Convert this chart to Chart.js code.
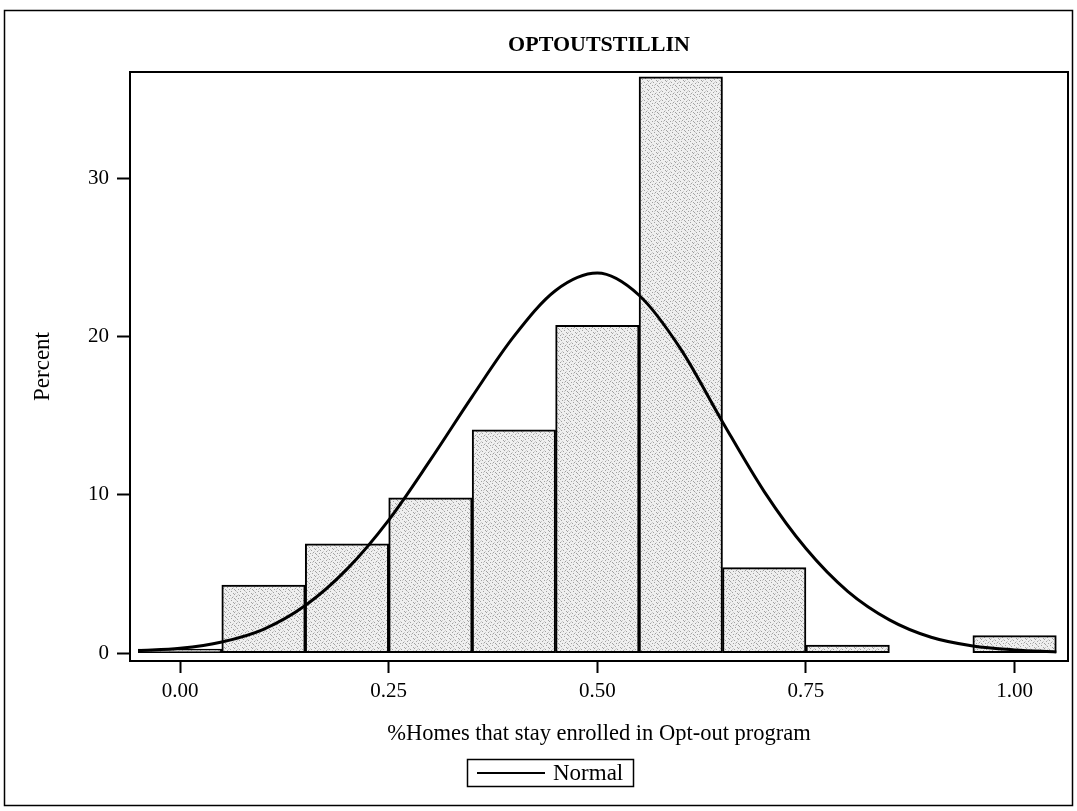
<!DOCTYPE html>
<html>
<head>
<meta charset="utf-8">
<script src="https://cdn.jsdelivr.net/npm/chart.js@4/dist/chart.umd.min.js"></script>
<style>
  html, body { margin: 0; padding: 0; background: #ffffff; }
  #wrap { width: 1077px; height: 811px; }
</style>
</head>
<body>
<div id="wrap"><canvas id="c" width="1077" height="811"></canvas></div>
<script>
// Histogram bins (midpoints) and percent of homes in each bin
const binMidpoints = [0.0, 0.1, 0.2, 0.3, 0.4, 0.5, 0.6, 0.7, 0.8, 0.9, 1.0];
const binPercent   = [0.25, 4.3, 6.9, 9.8, 14.1, 20.7, 36.4, 5.4, 0.5, 0, 1.1];

// Fitted normal curve, sampled along the x axis
const curveX = [-0.05, 0.0, 0.05, 0.1, 0.15, 0.2, 0.25, 0.3, 0.35, 0.4, 0.45, 0.5,
                0.55, 0.6, 0.65, 0.7, 0.75, 0.8, 0.85, 0.9, 0.95, 1.0, 1.05];
const curveY = [0.15, 0.3, 0.7, 1.5, 3.0, 5.3, 8.4, 12.2, 16.2, 20.0, 22.9, 24.0,
                22.6, 19.2, 14.6, 10.2, 6.6, 3.9, 2.1, 1.0, 0.45, 0.2, 0.07];

// Axis ticks
const xTickValues = [0, 0.25, 0.5, 0.75, 1.0];
const yTickValues = [0, 10, 20, 30];

const titleText = 'OPTOUTSTILLIN';
const xTitleText = '%Homes that stay enrolled in Opt-out program';
const yTitleText = 'Percent';
const legendText = 'Normal';

const SERIF = '"Liberation Serif", "Times New Roman", "DejaVu Serif", serif';

// Stippled light-gray fill for the bars
function makeStipple() {
  const p = document.createElement('canvas');
  p.width = 9; p.height = 9;
  const g = p.getContext('2d');
  g.fillStyle = '#efefef';
  g.fillRect(0, 0, 9, 9);
  g.fillStyle = '#a0a0a0';
  [[0,0],[5,1],[2,2],[7,3],[4,4],[1,5],[6,6],[3,7],[8,8],[0,4]]
    .forEach(([x, y]) => g.fillRect(x, y, 1, 1));
  g.fillStyle = '#cccccc';
  [[3,1],[8,2],[1,8],[6,4],[2,6],[4,0]].forEach(([x, y]) => g.fillRect(x, y, 1, 1));
  return g.createPattern(p, 'repeat');
}

const ctx = document.getElementById('c').getContext('2d');
const stipple = makeStipple();

// Frame, title, axis titles and legend drawn around the plot
const decorations = {
  id: 'decorations',
  afterDraw(chart) {
    const c = chart.ctx;
    const a = chart.chartArea;
    c.save();
    c.strokeStyle = '#000';
    // outer border
    c.lineWidth = 1.5;
    c.strokeRect(4.5, 10.5, 1068, 795);
    // plot frame
    c.lineWidth = 2;
    c.strokeRect(a.left, a.top, a.right - a.left, a.bottom - a.top);

    c.fillStyle = '#000';
    c.textAlign = 'center';
    c.textBaseline = 'alphabetic';
    c.font = 'bold 22px ' + SERIF;
    c.fillText(titleText, (a.left + a.right) / 2, 51);

    c.font = '22.5px ' + SERIF;
    c.fillText(xTitleText, (a.left + a.right) / 2, 740);

    c.save();
    c.translate(49, (a.top + a.bottom) / 2);
    c.rotate(-Math.PI / 2);
    c.font = '23px ' + SERIF;
    c.fillText(yTitleText, 0, 0);
    c.restore();

    // legend
    const lx = 467, ly = 759, lw = 166, lh = 27;
    c.lineWidth = 1.5;
    c.strokeRect(lx + 0.5, ly + 0.5, lw, lh);
    c.lineWidth = 2;
    c.beginPath();
    c.moveTo(lx + 10, ly + lh / 2 + 0.5);
    c.lineTo(lx + 78, ly + lh / 2 + 0.5);
    c.stroke();
    c.textAlign = 'left';
    c.font = '23px ' + SERIF;
    c.fillText(legendText, lx + 86, ly + 21);
    c.restore();
  }
};

new Chart(ctx, {
  type: 'bar',
  data: {
    datasets: [
      {
        type: 'line',
        label: legendText,
        data: curveX.map((x, i) => ({ x: x, y: curveY[i] })),
        borderColor: '#000',
        borderWidth: 3,
        pointRadius: 0,
        fill: false,
        cubicInterpolationMode: 'monotone',
        order: 0
      },
      {
        type: 'bar',
        label: 'Percent',
        data: binMidpoints.map((x, i) => ({ x: x, y: binPercent[i] > 0 ? binPercent[i] : null })),
        backgroundColor: stipple,
        borderColor: '#000',
        borderWidth: 2,
        borderSkipped: false,
        barPercentage: 1,
        categoryPercentage: 1,
        order: 1
      }
    ]
  },
  options: {
    responsive: false,
    animation: false,
    events: [],
    layout: { padding: { left: 0, right: 9, top: 72, bottom: 0 } },
    plugins: {
      legend: { display: false },
      title: { display: false },
      tooltip: { enabled: false }
    },
    scales: {
      x: {
        type: 'linear',
        offset: false,
        min: -0.06,
        max: 1.064,
        border: { display: false },
        grid: { offset: false, drawOnChartArea: false, drawTicks: true, tickLength: 12, tickColor: '#000', tickWidth: 2 },
        afterBuildTicks: (s) => { s.ticks = xTickValues.map(v => ({ value: v })); },
        afterFit: (s) => { s.height = 811 - 661; },
        ticks: {
          color: '#000',
          font: { family: SERIF, size: 21 },
          padding: 6,
          maxRotation: 0,
          autoSkip: false,
          callback: (v) => Number(v).toFixed(2)
        }
      },
      y: {
        type: 'linear',
        min: -0.5,
        max: 36.7,
        border: { display: false },
        grid: { drawOnChartArea: false, drawTicks: true, tickLength: 13, tickColor: '#000', tickWidth: 2 },
        afterBuildTicks: (s) => { s.ticks = yTickValues.map(v => ({ value: v })); },
        afterFit: (s) => { s.width = 130; },
        ticks: {
          color: '#000',
          font: { family: SERIF, size: 21 },
          padding: 8,
          autoSkip: false,
          callback: (v) => String(v)
        }
      }
    }
  },
  plugins: [decorations]
});
</script>
</body>
</html>
